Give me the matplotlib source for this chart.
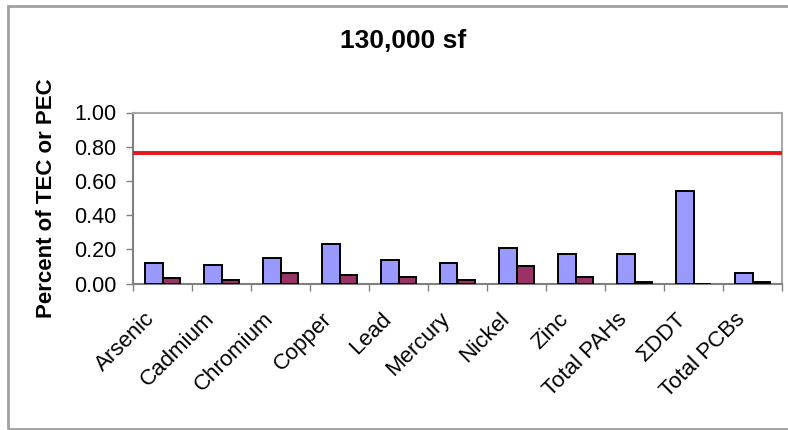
import matplotlib.pyplot as plt
import matplotlib.transforms as mtransforms
from matplotlib.patches import Rectangle
import numpy as np

plt.rcParams['font.family'] = ['Liberation Sans', 'DejaVu Sans']

# data
categories = ['Arsenic', 'Cadmium', 'Chromium', 'Copper', 'Lead', 'Mercury',
              'Nickel', 'Zinc', 'Total PAHs', '\u03a3DDT', 'Total PCBs']
tec_values = [0.12, 0.11, 0.15, 0.23, 0.14, 0.12, 0.21, 0.17, 0.17, 0.54, 0.06]
pec_values = [0.03, 0.02, 0.06, 0.05, 0.04, 0.02, 0.10, 0.04, 0.01, 0.00, 0.01]
threshold = 0.765
y_ticks = [0.0, 0.2, 0.4, 0.6, 0.8, 1.0]

fig = plt.figure(figsize=(7.88, 4.30), dpi=100)
ax = fig.add_axes([133 / 788, 1 - 283.5 / 430, 649 / 788, 171 / 430])

x = np.arange(len(categories))
w = 0.3
ax.bar(x - w / 2, tec_values, w, color='#9999FF', edgecolor='black', linewidth=1.4, zorder=3)
ax.bar(x + w / 2, pec_values, w, color='#993366', edgecolor='black', linewidth=1.4, zorder=3)
ax.axhline(threshold, color='#E8141B', linewidth=2.8, zorder=4)

ax.set_xlim(-0.5, len(categories) - 0.5)
ax.set_ylim(0, 1.0)
ax.set_yticks(y_ticks)
ax.set_yticklabels([f'{v:.2f}' for v in y_ticks])
ax.tick_params(axis='y', length=5, width=1, color='#808080', pad=7, labelsize=15.5)

# labels at category centres, tick marks on the boundaries
ax.set_xticks(x)
ax.set_xticklabels(categories, rotation=45, ha='right', va='top',
                   rotation_mode='anchor', fontsize=16)
ax.tick_params(axis='x', which='major', length=0, pad=0)
ax.set_xticks(np.arange(-0.5, len(categories)), minor=True)
ax.tick_params(axis='x', which='minor', length=5, width=1, color='#808080')
offset = mtransforms.ScaledTranslation(-18 / 100, -25 / 100, fig.dpi_scale_trans)
for lab in ax.get_xticklabels():
    lab.set_transform(lab.get_transform() + offset)

for side in ['left', 'bottom']:
    ax.spines[side].set_color('#808080')
    ax.spines[side].set_linewidth(1.5)
for side in ['top', 'right']:
    ax.spines[side].set_color('#A8A8A8')
    ax.spines[side].set_linewidth(1.5)

ax.set_ylabel('Percent of TEC or PEC', fontsize=16, fontweight='bold')
ax.yaxis.set_label_coords(-0.117, 0.5)
fig.text(403 / 788, 1 - 41 / 430, '130,000 sf', fontsize=19, fontweight='bold',
         ha='center', va='center')

# outer chart border
fig.patches.append(Rectangle((8 / 788, 1 - 429 / 430), 1.0, 423 / 430,
                             transform=fig.transFigure, fill=False,
                             edgecolor='#A0A0A0', linewidth=2))

fig.savefig('out.png', dpi=100)
